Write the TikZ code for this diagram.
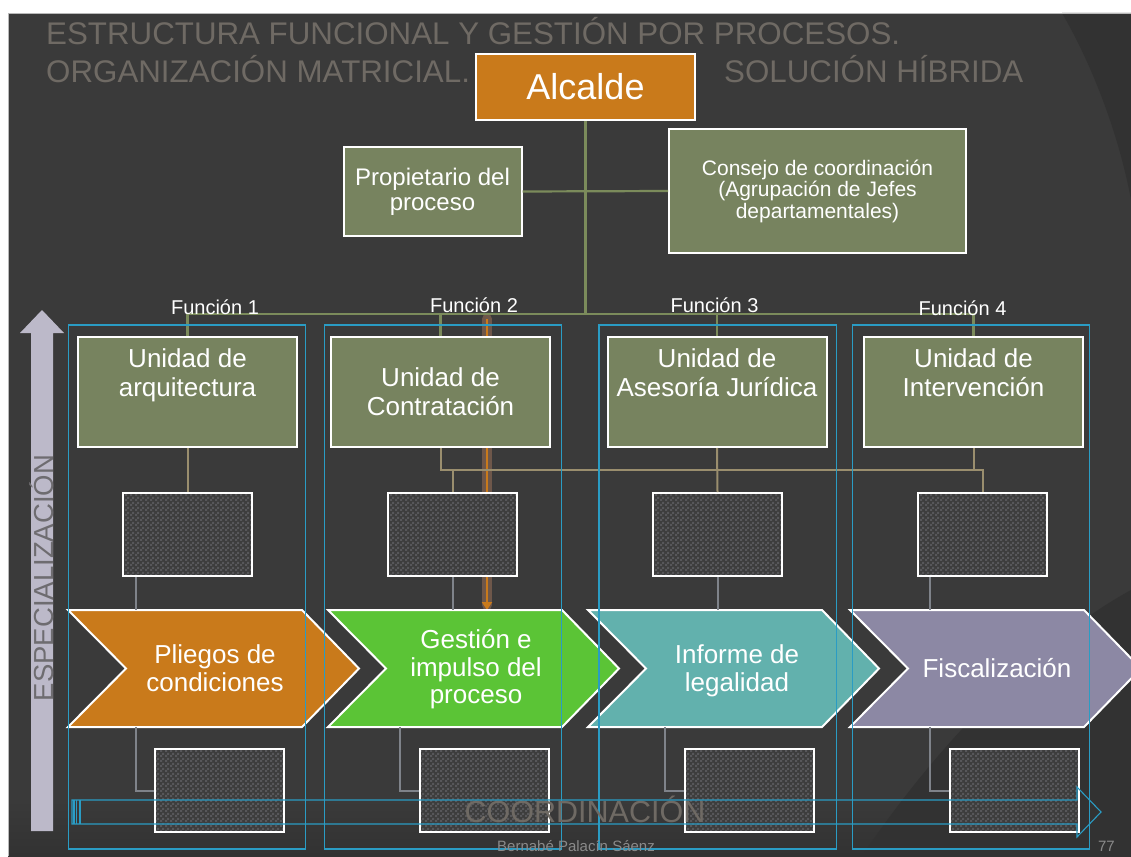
\documentclass[tikz,border=0pt]{standalone}
\usepackage{fontspec}
\setmainfont{Liberation Sans}
\usetikzlibrary{arrows.meta,patterns,calc}
\pgfdeclarepatternformonly{finechk}{\pgfqpoint{0pt}{0pt}}{\pgfqpoint{5pt}{5pt}}{\pgfqpoint{5pt}{5pt}}{%
  \pgfpathrectangle{\pgfqpoint{0pt}{0pt}}{\pgfqpoint{2.5pt}{2.5pt}}%
  \pgfpathrectangle{\pgfqpoint{2.5pt}{2.5pt}}{\pgfqpoint{2.5pt}{2.5pt}}%
  \pgfusepath{fill}}
\definecolor{bgc}{HTML}{3A3A3A}
\definecolor{bgd}{HTML}{323232}
\definecolor{titlec}{HTML}{6F6A64}
\definecolor{orgc}{HTML}{7B8B5B}
\definecolor{unitc}{HTML}{77835F}
\definecolor{tanc}{HTML}{9A8E6E}
\definecolor{gryc}{HTML}{7F838A}
\definecolor{orangec}{HTML}{C97A1B}
\definecolor{greenc}{HTML}{5BC436}
\definecolor{tealc}{HTML}{62B1AD}
\definecolor{purplec}{HTML}{8C88A4}
\definecolor{bluec}{HTML}{2A9CC4}
\definecolor{lavc}{HTML}{BCB9C9}
\definecolor{chkbase}{HTML}{3D3D3D}
\definecolor{chkc}{HTML}{57575A}
\definecolor{glowc}{HTML}{9A7058}
\definecolor{footc}{HTML}{8A8A8A}
\definecolor{especc}{HTML}{6E6C70}
\begin{document}
\begin{tikzpicture}[x=1pt,y=-1pt,
  titlet/.style={text=titlec,inner sep=0pt,font=\fontsize{31.3}{34}\selectfont},
  orgl/.style={draw=orgc,line width=2.2pt},
  tanl/.style={draw=tanc,line width=2pt},
  gryl/.style={draw=gryc,line width=2pt},
  bluel/.style={draw=bluec,line width=1.1pt},
  gbox/.style={draw=white,line width=2pt,fill=unitc,inner sep=0pt,text=white,align=center},
  unitbox/.style={gbox,minimum width=219pt,minimum height=110pt},
  wtxt/.style={text=white,align=center,inner sep=0pt},
  unittxt/.style={wtxt,anchor=north,font=\fontsize{26}{28.5}\selectfont},
  chevtxt/.style={wtxt,anchor=north,font=\fontsize{26}{27.5}\selectfont},
  functxt/.style={wtxt,anchor=base,font=\fontsize{20}{22}\selectfont},
  chkbox/.style={draw=white,line width=2pt,preaction={fill=chkbase},pattern=finechk,pattern color=chkc,minimum width=129pt,minimum height=83pt,inner sep=0pt},
  chevshape/.style={draw=white,line width=2pt}
]
\useasboundingbox (0,0) rectangle (1131,856);
\clip (0,0) rectangle (1131,856);
% background
\fill[white] (0,0) rectangle (1131,856);
\fill[bgc] (8,13) rectangle (1131,856);
\shade[top color=bgc,bottom color=bgd] (8,800) rectangle (1131,856);
\fill[bgd] (1062,13) .. controls (1095,70) and (1120,140) .. (1131,200) -- (1131,13) -- cycle;
\fill[bgd] (862,856) .. controls (940,740) and (1040,640) .. (1131,590) -- (1131,856) -- cycle;
\draw[gray!55!white,line width=1pt] (8.5,856) -- (8.5,13.5) -- (1131,13.5);
% titles
\node[titlet,anchor=base west] (t1) at (46,45) {ESTRUCTURA FUNCIONAL Y GESTIÓN POR PROCESOS.};
\node[titlet,anchor=base west] (t2) at (46,83) {ORGANIZACIÓN MATRICIAL.};
\node[titlet,anchor=base west] (t3) at (724,83) {SOLUCIÓN HÍBRIDA};
% especializacion arrow
\fill[lavc] (31,831) -- (31,333) -- (20,333) -- (42,310) -- (64,333) -- (53,333) -- (53,831) -- cycle;
\node[text=especc,inner sep=0pt,rotate=90,anchor=base,font=\fontsize{27.5}{30}\selectfont] (esp) at (53,578) {ESPECIALIZACIÓN};
% orange process arrow (behind boxes)
\coordinate (oa1) at (487,319);
\coordinate (oa2) at (487,610);
\draw[glowc,line width=10pt,opacity=.55,line cap=round] (oa1) -- ($(oa2)+(0,-5)$);
\draw[orangec,line width=2.8pt,-{Triangle[width=10pt,length=8pt]}] (oa1) -- (oa2);
% top nodes
\node[gbox,fill=orangec,minimum width=219pt,minimum height=66pt,font=\fontsize{36}{40}\selectfont] (al) at (585.5,87) {Alcalde};
\node[gbox,minimum width=178pt,minimum height=89pt,font=\fontsize{24}{25}\selectfont] (pr) at (432.5,191.5) {Propietario del\\proceso};
\node[gbox,minimum width=297pt,minimum height=124pt,font=\fontsize{21}{21.5}\selectfont] (co) at (817.5,191) {Consejo de coordinación\\(Agrupación de Jefes\\departamentales)};
% unit boxes
\node[unitbox] (u1) at (187.5,392) {};
\node[unitbox] (u2) at (440.5,392) {};
\node[unitbox] (u3) at (717,392) {};
\node[unitbox] (u4) at (973.5,392) {};
\node[unittxt] (u1t) at (187.5,348.5) {Unidad de\\arquitectura};
\node[unittxt] (u2t) at (440.5,367.5) {Unidad de\\Contratación};
\node[unittxt] (u3t) at (717,348.5) {Unidad de\\Asesoría Jurídica};
\node[unittxt] (u4t) at (973.5,348.5) {Unidad de\\Intervención};
% small boxes
\node[chkbox] (s1) at (187.5,534.5) {};
\node[chkbox] (s2) at (452.5,534.5) {};
\node[chkbox] (s3) at (717.5,534.5) {};
\node[chkbox] (s4) at (982.5,534.5) {};
\node[chkbox] (b1) at (219.5,790.5) {};
\node[chkbox] (b2) at (484.5,790.5) {};
\node[chkbox] (b3) at (749.5,790.5) {};
\node[chkbox] (b4) at (1014.5,790.5) {};
% org chart lines
\coordinate (busL) at (187.5,314);
\draw[orgl] (al.south) -- (al.south |- busL);
\draw[orgl] (pr.east) -- (co.west);
\draw[orgl] (u1.north) -- (busL) -- (u4.north |- busL) -- (u4.north);
\draw[orgl] (u2.north) -- (u2.north |- busL);
\draw[orgl] (u3.north) -- (u3.north |- busL);
% function labels
\node[functxt] (f1) at (215,314) {Función 1};
\node[functxt] (f2) at (474,312) {Función 2};
\node[functxt] (f3) at (714.5,312) {Función 3};
\node[functxt] (f4) at (962.5,315) {Función 4};
% tan lines
\coordinate (hbar) at (440.5,470);
\draw[tanl] (u1.south) -- (s1.north);
\draw[tanl] (u3.south) -- (s3.north);
\draw[tanl] (u2.south) -- (hbar) -| (s4.north);
\draw[tanl] (u4.south) -- (u4.south |- hbar);
\draw[tanl] (hbar -| s2.north) -- (s2.north);
% chevrons
\foreach \x/\c in {68/orangec,328/greenc,588/tealc,850/purplec}
  \path[chevshape,fill=\c] (\x,610) -- ++(234,0) -- ++(57,58.5) -- ++(-57,58.5) -- ++(-234,0) -- ++(58,-58.5) -- cycle;
\coordinate (chT) at (0,610);
\coordinate (chB) at (0,727);
\node[chevtxt] (c1) at (215,644.5) {Pliegos de\\condiciones};
\node[chevtxt] (c2) at (476,629.5) {Gestión e\\impulso del\\proceso};
\node[chevtxt] (c3) at (737,644.5) {Informe de\\legalidad};
\node[chevtxt] (c4) at (997,658.5) {Fiscalización};
% gray connectors
\draw[gryl] ($(s1.south west)+(14,0)$) coordinate (g1) -- (g1 |- chT);
\draw[gryl] (s2.south) -- (s2.south |- chT);
\draw[gryl] (s3.south) -- (s3.south |- chT);
\draw[gryl] ($(s4.south west)+(13,0)$) coordinate (g4) -- (g4 |- chT);
\draw[gryl] (b1.west) -- ++(-18.5,0) coordinate (h1) -- (h1 |- chB);
\draw[gryl] (b2.west) -- ++(-19,0) coordinate (h2) -- (h2 |- chB);
\draw[gryl] (b3.west) -- ++(-19,0) coordinate (h3) -- (h3 |- chB);
\draw[gryl] (b4.west) -- ++(-19,0) coordinate (h4) -- (h4 |- chB);
% column rectangles
\draw[bluel] (68.5,325) rectangle (305.5,849);
\draw[bluel] (324.5,325) rectangle (561.5,849);
\draw[bluel] (599,325) rectangle (836.5,849);
\draw[bluel] (852.5,325) rectangle (1089.5,849);
% coordination arrow
\node[text=titlec,inner sep=0pt,anchor=base,font=\fontsize{30.5}{32}\selectfont] (coord) at (585,822) {COORDINACIÓN};
\draw[bluel] (72,800) -- (1077,800) -- (1077,787) -- (1101,812) -- (1077,837) -- (1077,824) -- (72,824) -- cycle;
\draw[bluel] (74,800) -- (74,824);
\draw[bluel] (76.5,800) -- (76.5,824);
\draw[bluel] (80,800) -- (80,824);
% footer
\node[text=footc,inner sep=0pt,anchor=base,font=\fontsize{15}{16}\selectfont] (foot) at (576,851) {Bernabé Palacín Sáenz};
\node[text=footc,inner sep=0pt,anchor=base east,font=\fontsize{15}{16}\selectfont] (pg) at (1115,851) {77};
\end{tikzpicture}
\end{document}
